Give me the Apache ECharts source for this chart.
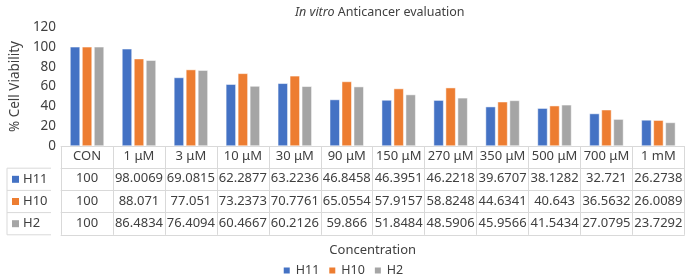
<!DOCTYPE html>
<html>
<head>
<meta charset="utf-8">
<script src="https://cdn.jsdelivr.net/npm/echarts@6/dist/echarts.min.js"></script>
<style>
  html, body { margin: 0; padding: 0; background: #fff; }
  #chart { width: 685px; height: 280px; }
</style>
</head>
<body>
<div id="chart"></div>
<script>
const categories = ['CON', '1 μM', '3 μM', '10 μM', '30 μM', '90 μM', '150 μM', '270 μM', '350 μM', '500 μM', '700 μM', '1 mM']
const seriesNames = ['H11', 'H10', 'H2']
const h11 = ['100', '98.0069', '69.0815', '62.2877', '63.2236', '46.8458', '46.3951', '46.2218', '39.6707', '38.1282', '32.721', '26.2738']
const h10 = ['100', '88.071', '77.051', '73.2373', '70.7761', '65.0554', '57.9157', '58.8248', '44.6341', '40.643', '36.5632', '26.0089']
const h2 = ['100', '86.4834', '76.4094', '60.4667', '60.2126', '59.866', '51.8484', '48.5906', '45.9566', '41.5434', '27.0795', '23.7292']
const colors = ['#4472C4', '#ED7D31', '#A5A5A5']

const rows = [h11, h10, h2]
const FONT = 'Noto Sans, sans-serif'
const TXT = '#404040'
const LINE = '#d9d9d9'
const GRID_LEFT = 51
const GRID_TOP = 27
const GRID_BOTTOM = 134
const ROW = 22.2
const TABLE_LEFT = 7
const AXIS_Y = 280 - GRID_BOTTOM

const chart = echarts.init(document.getElementById('chart'), null, { renderer: 'canvas' })

// extra x axes act as the table rows under the plot
const rowAxes = rows.map((r, i) => ({
  type: 'category',
  gridIndex: 0,
  position: 'bottom',
  offset: ROW * (i + 1),
  data: r,
  axisLine: { show: true, lineStyle: { color: LINE } },
  axisTick: { show: false },
  axisLabel: { color: TXT, fontFamily: FONT, fontSize: 13, margin: 4, interval: 0 },
}))
rowAxes.push({
  type: 'category',
  gridIndex: 0,
  position: 'bottom',
  offset: ROW * 4,
  data: categories,
  axisLine: { show: true, lineStyle: { color: LINE } },
  axisTick: { show: false },
  axisLabel: { show: false },
})

// row headers on the left of the table
const rowHeaders = []
rows.forEach((r, i) => {
  const top = AXIS_Y + ROW * (i + 1)
  rowHeaders.push({
    type: 'line',
    shape: { x1: TABLE_LEFT, y1: top, x2: GRID_LEFT, y2: top },
    style: { stroke: LINE, lineWidth: 1 },
  })
  rowHeaders.push({
    type: 'rect',
    shape: { x: 12, y: top + ROW / 2 - 3.5, width: 7, height: 7 },
    style: { fill: colors[i] },
  })
  rowHeaders.push({
    type: 'text',
    x: 23, y: top + ROW / 2,
    style: { text: seriesNames[i], fill: TXT, font: '13px ' + FONT, verticalAlign: 'middle' },
  })
})
rowHeaders.push({
  type: 'line',
  shape: { x1: TABLE_LEFT, y1: AXIS_Y + ROW * 4, x2: GRID_LEFT, y2: AXIS_Y + ROW * 4 },
  style: { stroke: LINE, lineWidth: 1 },
})
rowHeaders.push({
  type: 'line',
  shape: { x1: TABLE_LEFT, y1: AXIS_Y + ROW, x2: TABLE_LEFT, y2: AXIS_Y + ROW * 4 },
  style: { stroke: LINE, lineWidth: 1 },
})

chart.setOption({
  animation: false,
  textStyle: { fontFamily: FONT },
  title: {
    text: '{i|In vitro} Anticancer evaluation',
    left: 290,
    top: 1,
    textStyle: {
      fontSize: 12.5, fontWeight: 'normal', color: '#404040', fontFamily: FONT,
      rich: { i: { fontStyle: 'italic', fontSize: 12.5, color: '#404040', fontFamily: FONT } },
    },
  },
  grid: { left: GRID_LEFT, right: 0, top: GRID_TOP, bottom: GRID_BOTTOM },
  legend: {
    data: seriesNames,
    bottom: 3,
    padding: 0,
    left: 'center',
    icon: 'rect',
    itemWidth: 8,
    itemHeight: 8,
    itemGap: 8,
    textStyle: { color: TXT, fontSize: 12.5, fontFamily: FONT },
  },
  xAxis: [
    {
      type: 'category',
      data: categories,
      name: 'Concentration',
      nameLocation: 'middle',
      nameGap: 98,
      nameTextStyle: { color: TXT, fontSize: 13, fontFamily: FONT },
      axisLine: { lineStyle: { color: LINE } },
      axisTick: { show: true, length: ROW * 4, lineStyle: { color: LINE } },
      axisLabel: { color: TXT, fontSize: 13, fontFamily: FONT, margin: 4, interval: 0 },
    },
    ...rowAxes,
  ],
  yAxis: {
    type: 'value',
    min: 0,
    max: 120,
    interval: 20,
    name: '% Cell Viability',
    nameLocation: 'middle',
    nameGap: 32,
    nameTextStyle: { color: TXT, fontSize: 13.5, fontFamily: FONT },
    axisLine: { show: false },
    axisTick: { show: false },
    splitLine: { show: false },
    axisLabel: { color: TXT, fontSize: 13.5, fontFamily: FONT, margin: 5 },
  },
  series: rows.map((r, i) => ({
    name: seriesNames[i],
    type: 'bar',
    data: r.map(Number),
    barWidth: 10,
    barGap: '20%',
    itemStyle: { color: colors[i], borderColor: '#fff', borderWidth: 0.5 },
  })),
  graphic: rowHeaders,
})
</script>
</body>
</html>
